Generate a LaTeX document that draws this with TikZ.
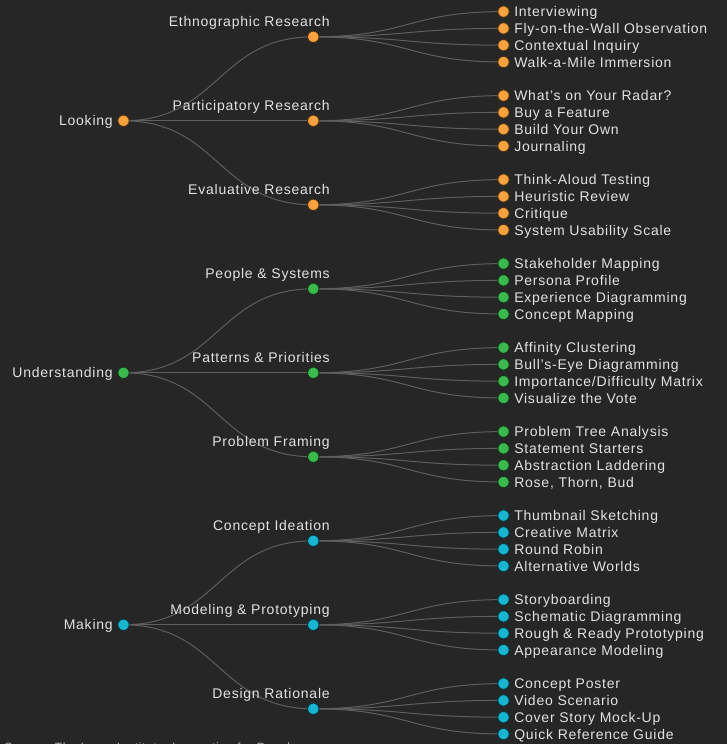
\documentclass[tikz,border=0pt]{standalone}
\usepackage{fontspec}
\setmainfont{Liberation Sans}[LetterSpace=5.5]
\usetikzlibrary{calc}
\definecolor{bgc}{HTML}{262626}
\definecolor{linkc}{HTML}{5E5E5E}
\definecolor{txtc}{HTML}{E2E2E2}
\definecolor{c1}{HTML}{F8A23F}
\definecolor{c2}{HTML}{3BB94F}
\definecolor{c3}{HTML}{17B5D0}
\pgfdeclarelayer{bgl}
\pgfdeclarelayer{lnk}
\pgfsetlayers{bgl,lnk,main}
\tikzset{
  dot/.style={circle,fill=#1,draw=#1!30!black,line width=0.75pt,minimum size=8.6pt,inner sep=0pt},
  lbl/.style={text=txtc,font=\fontsize{10.5}{12}\selectfont,inner sep=0pt},
  link/.style={draw=linkc,line width=0.75pt},
}
% #1 group index (0..8), #2 colour, #3 label list
\newcommand\mkleaves[3]{%
  \foreach \t [count=\i from 0] in {#3}{%
    \node[dot=#2] (l#1-\i) at (503.5,{11.6+84*#1+16.8*\i}) {};
    \node[lbl,anchor=base west] (l#1-\i t) at (514,{16.6+84*#1+16.8*\i}) {\t};
    \begin{pgfonlayer}{lnk}
      \draw[link] (m#1.center) .. controls +(95,0) and +(-95,0) .. (l#1-\i.center);
    \end{pgfonlayer}
  }%
}
% #1 group index, #2 root name, #3 colour, #4 label
\newcommand\mkmid[4]{%
  \node[dot=#3] (m#1) at (313.3,{36.8+84*#1}) {};
  \node[lbl,anchor=base east] (m#1t) at (330,{26.8+84*#1}) {#4};
  \begin{pgfonlayer}{lnk}
    \draw[link] (#2.center) .. controls +(95,0) and +(-95,0) .. (m#1.center);
  \end{pgfonlayer}
}
\begin{document}
\begin{tikzpicture}[x=0.75pt,y=-0.75pt]
\useasboundingbox (0,0) rectangle (727,744);
\begin{pgfonlayer}{bgl}
  \fill[bgc] (0,0) rectangle (727,744);
\end{pgfonlayer}

% roots
\node[dot=c1] (r1) at (123.5,120.8) {};
\node[lbl,anchor=base east] (r1t) at (113,125.3) {Looking};
\node[dot=c2] (r2) at (123.5,372.8) {};
\node[lbl,anchor=base east] (r2t) at (113,377.3) {Understanding};
\node[dot=c3] (r3) at (123.5,624.8) {};
\node[lbl,anchor=base east] (r3t) at (113,629.3) {Making};

% middle level
\mkmid{0}{r1}{c1}{Ethnographic Research}
\mkmid{1}{r1}{c1}{Participatory Research}
\mkmid{2}{r1}{c1}{Evaluative Research}
\mkmid{3}{r2}{c2}{People \& Systems}
\mkmid{4}{r2}{c2}{Patterns \& Priorities}
\mkmid{5}{r2}{c2}{Problem Framing}
\mkmid{6}{r3}{c3}{Concept Ideation}
\mkmid{7}{r3}{c3}{Modeling \& Prototyping}
\mkmid{8}{r3}{c3}{Design Rationale}

% leaves
\mkleaves{0}{c1}{Interviewing, Fly-on-the-Wall Observation, Contextual Inquiry, Walk-a-Mile Immersion}
\mkleaves{1}{c1}{What’s on Your Radar?, Buy a Feature, Build Your Own, Journaling}
\mkleaves{2}{c1}{Think-Aloud Testing, Heuristic Review, Critique, System Usability Scale}
\mkleaves{3}{c2}{Stakeholder Mapping, Persona Profile, Experience Diagramming, Concept Mapping}
\mkleaves{4}{c2}{Affinity Clustering, Bull’s-Eye Diagramming, Importance/Difficulty Matrix, Visualize the Vote}
\mkleaves{5}{c2}{Problem Tree Analysis, Statement Starters, Abstraction Laddering, {Rose, Thorn, Bud}}
\mkleaves{6}{c3}{Thumbnail Sketching, Creative Matrix, Round Robin, Alternative Worlds}
\mkleaves{7}{c3}{Storyboarding, Schematic Diagramming, Rough \& Ready Prototyping, Appearance Modeling}
\mkleaves{8}{c3}{Concept Poster, Video Scenario, Cover Story Mock-Up, Quick Reference Guide}

% source line (cut off by the lower edge, as in the original)
\node[lbl,anchor=base west,font=\fontsize{9}{10}\selectfont,text=txtc!75!bgc] (src) at (4,751.5)
  {Source: The Luma Institute, Innovating for People};
\end{tikzpicture}
\end{document}
